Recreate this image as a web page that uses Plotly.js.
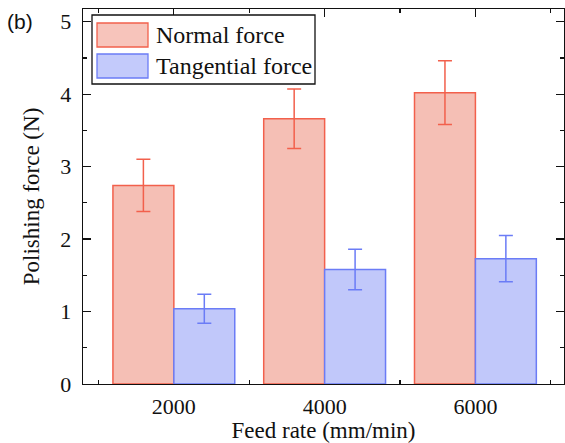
<!DOCTYPE html>
<html>
<head>
<meta charset="utf-8">
<script src="https://cdn.plot.ly/plotly-3.0.1.min.js"></script>
<style>html,body{margin:0;padding:0;background:#fff;}#chart{width:565px;height:443px;}</style>
</head>
<body>
<div id="chart"></div>
<script>
const feedRates = [2000, 4000, 6000];
const tickLabels = ['2000', '4000', '6000'];
const normalForce = [2.74, 3.66, 4.02];
const normalErr = [0.36, 0.41, 0.44];
const tangentialForce = [1.04, 1.58, 1.73];
const tangentialErr = [0.20, 0.28, 0.32];
const seriesNames = ['Normal force', 'Tangential force'];

const redLine = '#f2604c';
const blueLine = '#6b7cf6';
const barW = 808;

const font = 'Liberation Serif, Times New Roman, serif';

const traces = [
  {
    type: 'bar', x: feedRates, y: normalForce, name: seriesNames[0],
    width: barW, offset: -barW,
    marker: {color: '#f7c4bb', line: {color: redLine, width: 1.5},
      pattern: {shape: '.', fgcolor: '#f2aea2', bgcolor: '#f8cdc5', size: 2, solidity: 0.5}},
    error_y: {type: 'data', array: normalErr, visible: true, color: redLine, thickness: 1.5, width: 7},
    showlegend: false
  },
  {
    type: 'bar', x: feedRates, y: tangentialForce, name: seriesNames[1],
    width: barW, offset: 0,
    marker: {color: '#c3cafb', line: {color: blueLine, width: 1.5},
      pattern: {shape: '.', fgcolor: '#9ba7f8', bgcolor: '#dfe3fd', size: 2, solidity: 0.5}},
    error_y: {type: 'data', array: tangentialErr, visible: true, color: blueLine, thickness: 1.5, width: 7},
    showlegend: false
  }
];

const L = 83, R = 564, T = 9, B = 384;
const px = v => (v - L) / (R - L);
const py = v => (B - v) / (B - T);

const layout = {
  width: 565, height: 443,
  margin: {l: L, r: 565 - R, t: T, b: 443 - B, pad: 0},
  paper_bgcolor: '#fff', plot_bgcolor: '#fff',
  barmode: 'overlay',
  showlegend: false,
  font: {family: font, color: '#111', size: 22},
  xaxis: {
    range: [795, 7175], tickvals: feedRates, ticktext: tickLabels,
    ticks: 'inside', ticklen: 8, tickwidth: 1.2, tickcolor: '#111',
    minor: {tick0: 1000, dtick: 2000, ticks: 'inside', ticklen: 4, tickwidth: 1.2, tickcolor: '#111'},
    showline: true, linecolor: '#111', linewidth: 1.3, mirror: 'ticks',
    showgrid: false, zeroline: false, layer: 'below traces',
    tickfont: {family: font, size: 22, color: '#111'}, ticklabelstandoff: 2,
    title: {text: 'Feed rate (mm/min)', font: {family: font, size: 23, color: '#111'}, standoff: 8}
  },
  yaxis: {
    range: [0, 5.175], tickvals: [0, 1, 2, 3, 4, 5],
    ticks: 'inside', ticklen: 8, tickwidth: 1.2, tickcolor: '#111',
    minor: {dtick: 0.5, ticks: 'inside', ticklen: 4, tickwidth: 1.2, tickcolor: '#111'},
    showline: true, linecolor: '#111', linewidth: 1.3, mirror: 'ticks',
    showgrid: false, zeroline: false, layer: 'below traces',
    tickfont: {family: font, size: 22, color: '#111'}, ticklabelstandoff: 6,
    title: {text: 'Polishing force (N)', font: {family: font, size: 23, color: '#111'}, standoff: 14}
  },
  shapes: [
    {type: 'rect', xref: 'paper', yref: 'paper', x0: px(92), x1: px(315), y0: py(84), y1: py(15),
      line: {color: '#111', width: 1.3}, fillcolor: '#fff'},
    {type: 'rect', xref: 'paper', yref: 'paper', x0: px(97), x1: px(148), y0: py(47), y1: py(23),
      line: {color: redLine, width: 1.3}, fillcolor: '#f7c4bb'},
    {type: 'rect', xref: 'paper', yref: 'paper', x0: px(97), x1: px(148), y0: py(78), y1: py(54),
      line: {color: blueLine, width: 1.3}, fillcolor: '#c3cafb'}
  ],
  annotations: [
    {xref: 'paper', yref: 'paper', x: px(154), y: py(35), xanchor: 'left', yanchor: 'middle',
      text: seriesNames[0], showarrow: false, font: {family: font, size: 24, color: '#111'}},
    {xref: 'paper', yref: 'paper', x: px(154), y: py(66), xanchor: 'left', yanchor: 'middle',
      text: seriesNames[1], showarrow: false, font: {family: font, size: 24, color: '#111'}},
    {xref: 'paper', yref: 'paper', x: px(5), y: py(22), xanchor: 'left', yanchor: 'middle',
      text: '(b)', showarrow: false, font: {family: 'Liberation Sans, Arial, sans-serif', size: 21, color: '#111'}}
  ]
};

Plotly.newPlot('chart', traces, layout, {displayModeBar: false, staticPlot: true});
</script>
</body>
</html>
